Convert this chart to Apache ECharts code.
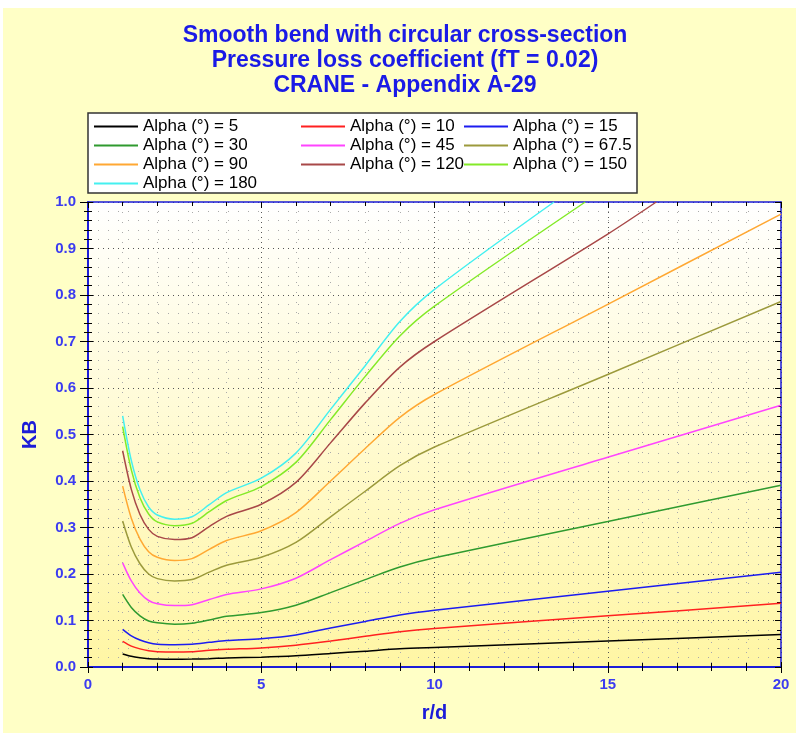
<!DOCTYPE html>
<html>
<head>
<meta charset="utf-8">
<script src="https://cdn.jsdelivr.net/npm/echarts@6/dist/echarts.min.js"></script>
<style>
  html, body { margin: 0; padding: 0; background: #fff; }
  #chart { width: 796px; height: 733px; }
</style>
</head>
<body>
<div id="chart"></div>
<script>
// r/d sample positions
const rd = [1, 1.25, 1.5, 1.75, 2, 2.5, 3, 3.5, 4, 5, 6, 7, 8, 9, 10, 15, 20];
// the three steepest curves leave the top of the plot, so they stop at the edge
const rd120 = [1, 1.25, 1.5, 1.75, 2, 2.5, 3, 3.5, 4, 5, 6, 7, 8, 9, 10, 15, 16.4];
const rd150 = [1, 1.25, 1.5, 1.75, 2, 2.5, 3, 3.5, 4, 5, 6, 7, 8, 9, 10, 14.35];
const rd180 = [1, 1.25, 1.5, 1.75, 2, 2.5, 3, 3.5, 4, 5, 6, 7, 8, 9, 10, 13.45];

const k5   = [0.028, 0.023, 0.020, 0.018, 0.017, 0.0165, 0.017, 0.018, 0.0195, 0.021, 0.024, 0.029, 0.034, 0.039, 0.042, 0.056, 0.070];
const k10  = [0.055, 0.045, 0.039, 0.035, 0.033, 0.032, 0.033, 0.036, 0.038, 0.041, 0.047, 0.056, 0.066, 0.076, 0.083, 0.110, 0.137];
const k15  = [0.081, 0.067, 0.058, 0.052, 0.049, 0.048, 0.049, 0.053, 0.057, 0.061, 0.069, 0.084, 0.098, 0.112, 0.122, 0.163, 0.204];
const k30  = [0.156, 0.128, 0.110, 0.099, 0.095, 0.092, 0.094, 0.101, 0.109, 0.117, 0.133, 0.160, 0.188, 0.215, 0.235, 0.313, 0.391];
const k45  = [0.224, 0.185, 0.159, 0.143, 0.136, 0.132, 0.134, 0.145, 0.156, 0.168, 0.191, 0.231, 0.270, 0.309, 0.338, 0.451, 0.563];
const k675 = [0.314, 0.258, 0.222, 0.200, 0.190, 0.185, 0.188, 0.204, 0.219, 0.236, 0.268, 0.323, 0.378, 0.433, 0.473, 0.629, 0.786];
const k90  = [0.389, 0.320, 0.275, 0.248, 0.236, 0.229, 0.233, 0.253, 0.272, 0.293, 0.332, 0.400, 0.470, 0.537, 0.586, 0.780, 0.974];
const k120 = [0.465, 0.382, 0.328, 0.296, 0.281, 0.274, 0.278, 0.302, 0.324, 0.350, 0.397, 0.482, 0.568, 0.645, 0.700, 0.931, 1.0];
const k150 = [0.517, 0.424, 0.364, 0.329, 0.312, 0.304, 0.309, 0.334, 0.358, 0.388, 0.440, 0.532, 0.625, 0.712, 0.776, 1.0];
const k180 = [0.540, 0.444, 0.381, 0.344, 0.327, 0.318, 0.323, 0.349, 0.375, 0.406, 0.460, 0.554, 0.648, 0.743, 0.812, 1.0];

const angles = ['5', '10', '15', '30', '45', '67.5', '90', '120', '150', '180'];
const colors = ['#000000', '#ff2020', '#1c1cf0', '#2f9a2f', '#ff44ff', '#9c9a3c', '#ffa833', '#a84848', '#84ea28', '#44f0f0'];
const yTicks = ['0.0', '0.1', '0.2', '0.3', '0.4', '0.5', '0.6', '0.7', '0.8', '0.9', '1.0'];

const font = 'Arial, "Liberation Sans", sans-serif';
const blue = '#1c1cd8';
const labelBlue = '#3c3cf0';

const xs = [rd, rd, rd, rd, rd, rd, rd, rd120, rd150, rd180];
const ys = [k5, k10, k15, k30, k45, k675, k90, k120, k150, k180];
const names = angles.map(a => 'Alpha (°) = ' + a);

let series = names.map((name, i) => ({
  name: name,
  type: 'line',
  xAxisIndex: 0,
  yAxisIndex: 0,
  symbol: 'none',
  smooth: 0.3,
  color: colors[i],
  lineStyle: { width: 1.5, color: colors[i] },
  data: xs[i].map((x, j) => [x, ys[i][j]])
}));

const legendCommon = {
  orient: 'vertical',
  top: 113,
  itemWidth: 44,
  itemHeight: 14,
  itemGap: 2,
  selectedMode: false,
  itemStyle: { opacity: 0 },
  textStyle: { fontSize: 17, color: '#000', fontFamily: font }
};

function xAxisBase(extra) {
  return Object.assign({
    type: 'value', min: 0, max: 20, interval: 5,
    axisLine: { show: false, onZero: false },
    axisTick: { show: true, length: 5, lineStyle: { color: '#000' } },
    minorTick: { show: true, splitNumber: 5, length: 4, lineStyle: { color: '#000' } },
    axisLabel: { show: false },
    splitLine: { show: false }
  }, extra);
}
function yAxisBase(extra) {
  return Object.assign({
    type: 'value', min: 0, max: 1, interval: 0.1,
    axisLine: { show: false, onZero: false },
    axisTick: { show: true, length: 5, lineStyle: { color: '#000' } },
    minorTick: { show: true, splitNumber: 5, length: 4, lineStyle: { color: '#000' } },
    axisLabel: { show: false },
    splitLine: { show: false }
  }, extra);
}

let myChart = echarts.init(document.getElementById('chart'));
let options = {
  backgroundColor: '#ffffc6',
  animation: false,
  graphic: [
    { type: 'rect', shape: { x: 0, y: 0, width: 796, height: 8 }, style: { fill: '#fff' }, z: 0 },
    { type: 'rect', shape: { x: 0, y: 0, width: 3, height: 733 }, style: { fill: '#fff' }, z: 0 },
    { type: 'rect', shape: { x: 88, y: 113, width: 549, height: 80 }, style: { fill: '#fff', stroke: '#333', lineWidth: 1.5 }, z: 0 },
    { type: 'text', x: 405, y: 36, style: { text: 'Smooth bend with circular cross-section', font: 'bold 23px ' + font, fill: '#1a1ae6', align: 'center', verticalAlign: 'middle' } },
    { type: 'text', x: 405, y: 61, style: { text: 'Pressure loss coefficient (fT = 0.02)', font: 'bold 23px ' + font, fill: '#1a1ae6', align: 'center', verticalAlign: 'middle' } },
    { type: 'text', x: 405, y: 86, style: { text: 'CRANE - Appendix A-29', font: 'bold 23px ' + font, fill: '#1a1ae6', align: 'center', verticalAlign: 'middle' } }
  ],
  legend: [
    Object.assign({ left: 88, data: [names[0], names[3], names[6], names[9]] }, legendCommon),
    Object.assign({ left: 295, data: [names[1], names[4], names[7]] }, legendCommon),
    Object.assign({ left: 458, data: [names[2], names[5], names[8]] }, legendCommon)
  ],
  grid: {
    left: 88, right: 15, top: 202, bottom: 66,
    show: true,
    borderWidth: 0,
    backgroundColor: new echarts.graphic.LinearGradient(0, 0, 0, 1, [
      { offset: 0, color: '#ffffff' },
      { offset: 1, color: '#fff6a4' }
    ])
  },
  xAxis: [
    xAxisBase({
      position: 'bottom',
      axisLine: { show: true, onZero: false, lineStyle: { color: blue, width: 2 } },
      axisTick: { show: true, length: 6, lineStyle: { color: '#000' } },
      axisLabel: { show: true, color: labelBlue, fontSize: 15, fontWeight: 'bold', fontFamily: font, margin: 10 },
      splitLine: { show: true, lineStyle: { color: '#555', width: 1, type: [1, 4] } },
      minorSplitLine: { show: true, lineStyle: { color: '#aaa', width: 1, type: [1, 9] } },
      name: 'r/d', nameLocation: 'middle', nameGap: 36,
      nameTextStyle: { color: blue, fontSize: 20, fontWeight: 'bold', fontFamily: font }
    }),
    xAxisBase({ position: 'bottom', axisTick: { show: true, inside: true, length: 5, lineStyle: { color: '#000' } } }),
    xAxisBase({
      position: 'top',
      axisLine: { show: true, onZero: false, lineStyle: { color: blue, width: 1.5 } },
      axisTick: { show: true, inside: true, length: 6, lineStyle: { color: '#000' } }
    })
  ],
  yAxis: [
    yAxisBase({
      position: 'left',
      axisLine: { show: true, onZero: false, lineStyle: { color: blue, width: 2 } },
      axisTick: { show: true, length: 8, lineStyle: { color: '#000' } },
      axisLabel: {
        show: true, color: labelBlue, fontSize: 15, fontWeight: 'bold', fontFamily: font, margin: 12,
        formatter: v => yTicks[Math.round(v * 10)]
      },
      splitLine: { show: true, lineStyle: { color: '#555', width: 1, type: [1, 4] } },
      minorSplitLine: { show: true, lineStyle: { color: '#aaa', width: 1, type: [1, 9] } },
      name: 'KB', nameLocation: 'middle', nameGap: 48,
      nameTextStyle: { color: blue, fontSize: 20, fontWeight: 'bold', fontFamily: font }
    }),
    yAxisBase({ position: 'left', axisTick: { show: true, inside: true, length: 5, lineStyle: { color: '#000' } } }),
    yAxisBase({
      position: 'right',
      axisLine: { show: true, onZero: false, lineStyle: { color: blue, width: 1.5 } },
      axisTick: { show: true, inside: true, length: 6, lineStyle: { color: '#000' } }
    })
  ],
  series: series
};
myChart.setOption(options);
</script>
</body>
</html>
